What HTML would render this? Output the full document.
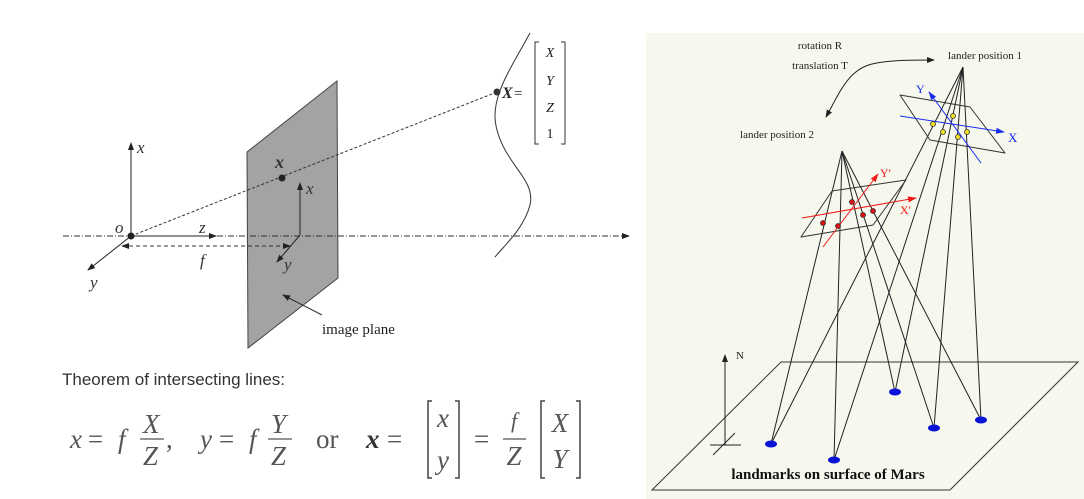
<!DOCTYPE html>
<html><head><meta charset="utf-8"><style>
html,body{margin:0;padding:0;background:#fff;width:1084px;height:499px;overflow:hidden}
svg{display:block}
.serif{font-family:"Liberation Serif",serif}
</style></head><body>
<svg width="1084" height="499" viewBox="0 0 1084 499">
<defs>
<marker id="ah" markerWidth="8" markerHeight="6" refX="7" refY="3" orient="auto" markerUnits="userSpaceOnUse"><path d="M0,0 L8,3 L0,6 z" fill="#222"/></marker>
<marker id="ahs" markerWidth="8" markerHeight="6" refX="1" refY="3" orient="auto" markerUnits="userSpaceOnUse"><path d="M8,0 L0,3 L8,6 z" fill="#222"/></marker>
<marker id="ahb" markerWidth="9" markerHeight="6" refX="8" refY="3" orient="auto" markerUnits="userSpaceOnUse"><path d="M0,0 L9,3 L0,6 z" fill="#1a2cf0"/></marker>
<marker id="ahr" markerWidth="9" markerHeight="6" refX="8" refY="3" orient="auto" markerUnits="userSpaceOnUse"><path d="M0,0 L9,3 L0,6 z" fill="#f01818"/></marker>
</defs>

<!-- LEFT PANEL -->
<g>
<polygon points="247,152 337,81 338,278 248,348" fill="#a3a3a3" stroke="#444" stroke-width="1"/>
<line x1="63" y1="236" x2="629" y2="236" stroke="#333" stroke-width="1" stroke-dasharray="6,2,1,2" marker-end="url(#ah)"/>
<line x1="131" y1="236" x2="497" y2="92" stroke="#333" stroke-width="1" stroke-dasharray="3,2"/>
<line x1="131" y1="236" x2="131" y2="143" stroke="#222" marker-end="url(#ah)"/>
<line x1="131" y1="236" x2="216" y2="236" stroke="#222" marker-end="url(#ah)"/>
<line x1="131" y1="236" x2="88" y2="270" stroke="#222" marker-end="url(#ah)"/>
<line x1="122" y1="246" x2="290" y2="246" stroke="#333" stroke-dasharray="4,3" marker-start="url(#ahs)" marker-end="url(#ah)"/>
<circle cx="131" cy="236" r="3.5" fill="#222"/>
<line x1="300" y1="235" x2="300" y2="183" stroke="#222" marker-end="url(#ah)"/>
<line x1="300" y1="235" x2="277" y2="262" stroke="#222" marker-end="url(#ah)"/>
<circle cx="282" cy="178" r="3.5" fill="#222"/>
<path d="M530,33 C510,70 488,100 497,130 C506,165 536,180 530,205 C524,228 505,245 495,257" fill="none" stroke="#333"/>
<circle cx="497" cy="92" r="3.5" fill="#333"/>
<g class="serif" fill="#333" font-style="italic" font-size="17">
<text x="137" y="153">x</text>
<text x="115" y="233">o</text>
<text x="199" y="233">z</text>
<text x="200" y="266">f</text>
<text x="90" y="288">y</text>
<text x="306" y="194">x</text>
<text x="284" y="270">y</text>
<text x="275" y="168" font-weight="bold" font-size="18">x</text>
<text x="502" y="98" font-weight="bold" font-size="16" font-style="italic" fill="#222">X</text>
</g>
<text x="514" y="98" class="serif" font-size="15" fill="#222">=</text>
<path d="M539,42 H535 V144 H539 M561,42 H565 V144 H561" fill="none" stroke="#333"/>
<g class="serif" font-size="14" fill="#222" text-anchor="middle" font-style="italic">
<text x="550" y="57">X</text><text x="550" y="85">Y</text><text x="550" y="112">Z</text><text x="550" y="138" font-style="normal">1</text>
</g>
<line x1="322" y1="315" x2="283" y2="295" stroke="#333" marker-end="url(#ah)"/>
<text x="322" y="334" class="serif" font-size="15" fill="#222">image plane</text>
<text x="62" y="385" font-family="Liberation Sans, sans-serif" font-size="17" fill="#333">Theorem of intersecting lines:</text>
<g class="serif" fill="#555" font-size="27">
<text x="70" y="448" font-style="italic">x</text><text x="88" y="448">=</text><text x="118" y="448" font-style="italic">f</text>
<text x="143" y="433" font-style="italic">X</text><line x1="140" y1="439" x2="164" y2="439" stroke="#555" stroke-width="1.2"/><text x="143" y="465" font-style="italic">Z</text><text x="166" y="448">,</text>
<text x="200" y="448" font-style="italic">y</text><text x="219" y="448">=</text><text x="249" y="448" font-style="italic">f</text>
<text x="271" y="433" font-style="italic">Y</text><line x1="268" y1="439" x2="292" y2="439" stroke="#555" stroke-width="1.2"/><text x="271" y="465" font-style="italic">Z</text>
<text x="316" y="448">or</text>
<text x="366" y="448" font-style="italic" font-weight="bold" fill="#333">x</text><text x="387" y="448">=</text>
<path d="M432,401 H428 V478 H432 M455,401 H459 V478 H455" fill="none" stroke="#444" stroke-width="1.5"/>
<text x="443" y="427" text-anchor="middle" font-style="italic">x</text><text x="443" y="469" text-anchor="middle" font-style="italic">y</text>
<text x="474" y="448">=</text>
<text x="514" y="428" text-anchor="middle" font-style="italic" font-size="22">f</text><line x1="503" y1="439" x2="526" y2="439" stroke="#555" stroke-width="1.2"/><text x="514" y="465" text-anchor="middle" font-style="italic">Z</text>
<path d="M545,401 H541 V478 H545 M576,401 H580 V478 H576" fill="none" stroke="#444" stroke-width="1.5"/>
<text x="560" y="432" text-anchor="middle" font-style="italic">X</text><text x="560" y="468" text-anchor="middle" font-style="italic">Y</text>
</g>
</g>

<!-- RIGHT PANEL -->
<g>
<rect x="646" y="33" width="438" height="466" fill="#f6f8ee"/>
<polygon points="781,362 1078,362 950,490 652,490" fill="none" stroke="#333"/>
<g id="rays" stroke="#222" stroke-width="1" fill="none"></g>
<polygon points="900,95 970,107 1005,153 930,140" fill="none" stroke="#333" stroke-linejoin="round"/>
<polygon points="832,191 906,180 873,225 801,237" fill="none" stroke="#333" stroke-linejoin="round"/>
<line x1="981" y1="163" x2="929" y2="92" stroke="#1a2cf0" marker-end="url(#ahb)"/>
<line x1="900" y1="116" x2="1004" y2="132" stroke="#1a2cf0" marker-end="url(#ahb)"/>
<line x1="823" y1="247" x2="878" y2="174" stroke="#f01818" marker-end="url(#ahr)"/>
<line x1="802" y1="218" x2="916" y2="198" stroke="#f01818" marker-end="url(#ahr)"/>
<g id="dots"></g>
<g class="serif" font-size="11" fill="#222">
<text x="820" y="49" text-anchor="middle">rotation R</text>
<text x="820" y="69" text-anchor="middle">translation T</text>
<text x="985" y="59" text-anchor="middle">lander position 1</text>
<text x="777" y="138" text-anchor="middle">lander position 2</text>
<text x="736" y="359">N</text>
</g>
<text x="916" y="93" class="serif" font-size="12" fill="#1a2cf0">Y</text>
<text x="1008" y="142" class="serif" font-size="13" fill="#1a2cf0">X</text>
<text x="880" y="177" class="serif" font-size="12" fill="#f01818">Y'</text>
<text x="900" y="214" class="serif" font-size="12" fill="#f01818">X'</text>
<path d="M826,117 C840,92 848,70 872,64 C890,60 910,60 934,60" fill="none" stroke="#222" marker-start="url(#ahs)" marker-end="url(#ah)"/>
<line x1="725" y1="445" x2="725" y2="355" stroke="#222" marker-end="url(#ah)"/>
<line x1="710" y1="445" x2="741" y2="445" stroke="#222"/>
<line x1="713" y1="455" x2="735" y2="433" stroke="#222"/>
<text x="828" y="479" text-anchor="middle" class="serif" font-size="15" font-weight="bold" fill="#111">landmarks on surface of Mars</text>
</g>
</svg>
<script>
const landmarkX = [895, 934, 981, 771, 834];
const landmarkY = [392, 428, 420, 444, 460];
const yellowX = [933, 953, 943, 958, 967];
const yellowY = [124, 116, 132, 137, 132];
const redX = [852, 823, 838, 863, 873];
const redY = [202, 223, 226, 215, 211];
const apex1 = [963, 67];
const apex2 = [842, 151];
const NS = 'http://www.w3.org/2000/svg';
const rays = document.getElementById('rays');
const dots = document.getElementById('dots');
[apex1, apex2].forEach(function (a, k) {
  for (let i = 0; i < landmarkX.length; i++) {
    const l = document.createElementNS(NS, 'line');
    l.setAttribute('x1', a[0]); l.setAttribute('y1', a[1]);
    l.setAttribute('x2', landmarkX[i]); l.setAttribute('y2', landmarkY[i]);
    
    
    rays.appendChild(l);
  }
});
for (let i = 0; i < landmarkX.length; i++) {
  const e = document.createElementNS(NS, 'ellipse');
  e.setAttribute('cx', landmarkX[i]); e.setAttribute('cy', landmarkY[i]);
  e.setAttribute('rx', 6); e.setAttribute('ry', 3.5); e.setAttribute('fill', '#0a14d8');
  
  
  dots.appendChild(e);
}
function pts(xs, ys, fill, name) {
  for (let i = 0; i < xs.length; i++) {
    const c = document.createElementNS(NS, 'circle');
    c.setAttribute('cx', xs[i]); c.setAttribute('cy', ys[i]); c.setAttribute('r', 2.5);
    c.setAttribute('fill', fill); c.setAttribute('stroke', '#333'); c.setAttribute('stroke-width', '0.8');
    
    
    dots.appendChild(c);
  }
}
pts(yellowX, yellowY, '#f0e020', 'image-point-1');
pts(redX, redY, '#e01010', 'image-point-2');
</script>
</body></html>
